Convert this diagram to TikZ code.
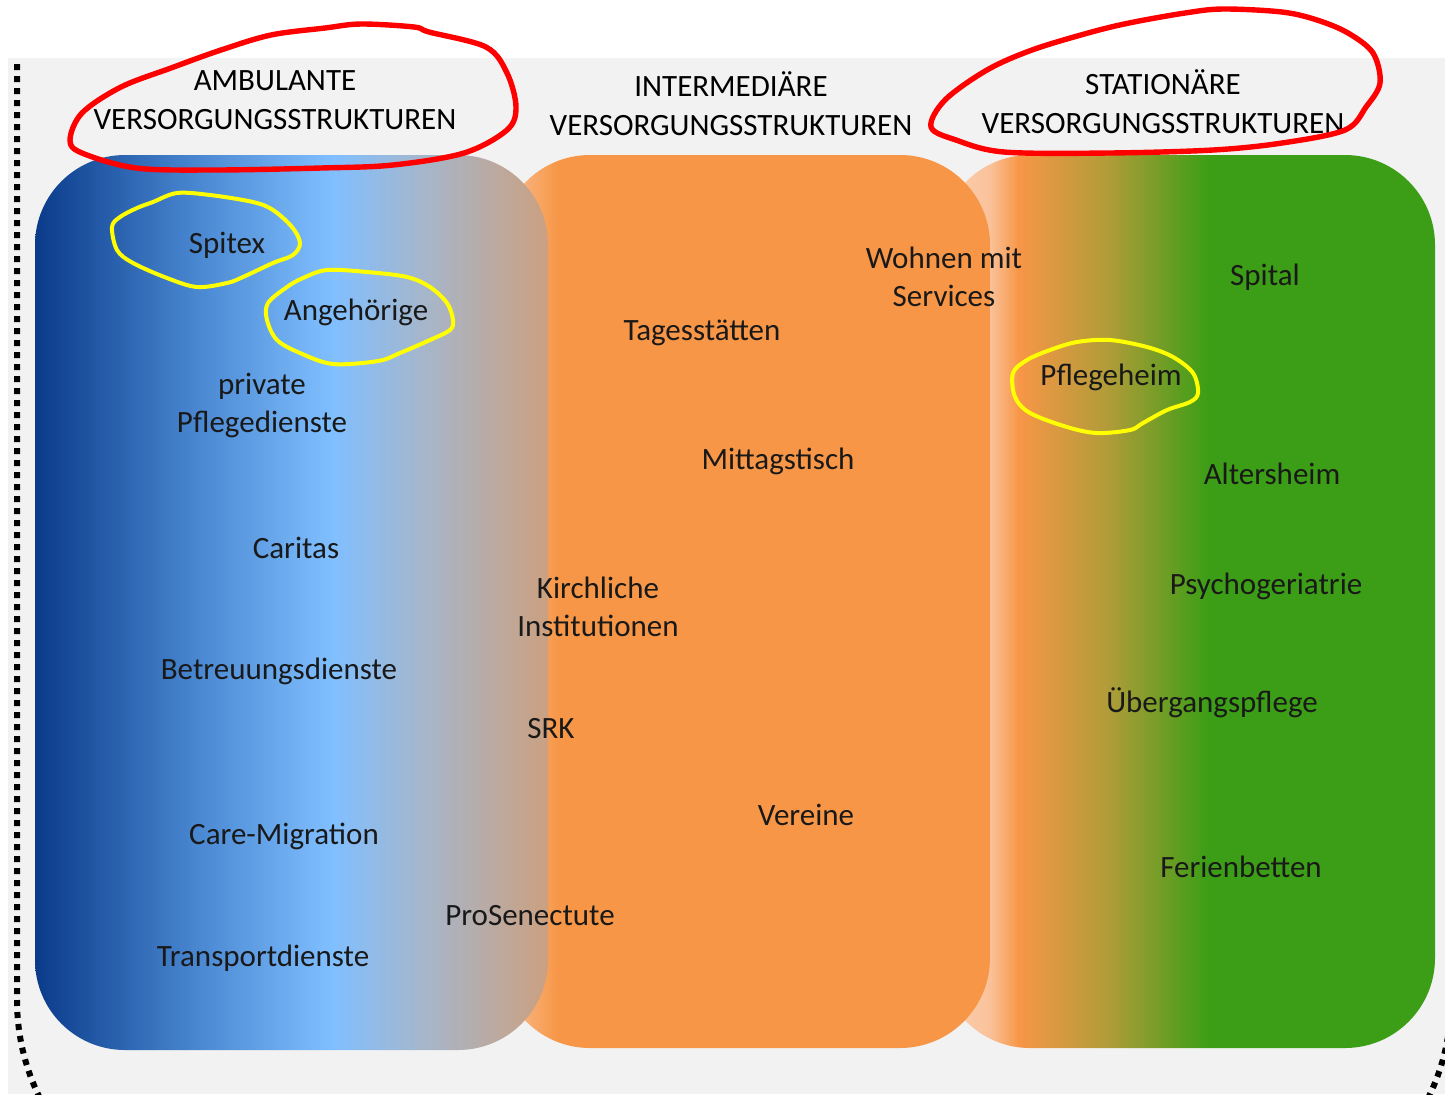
\documentclass[tikz,border=0pt]{standalone}
\usepackage{fontspec}
\setmainfont{Carlito}
\usetikzlibrary{calc}
\definecolor{Paper}{HTML}{F2F2F2}
\definecolor{AmbDark}{HTML}{0A3B8A}
\definecolor{AmbMid}{HTML}{4A88D2}
\definecolor{AmbLight}{HTML}{80BFFF}
\definecolor{AmbGrey}{HTML}{A6B6CA}
\definecolor{AmbTan}{HTML}{CBA080}
\definecolor{IntOrange}{HTML}{F79646}
\definecolor{IntLight}{HTML}{FAC29A}
\definecolor{StatPeach}{HTML}{FAD2B4}
\definecolor{StatOlive}{HTML}{B09C38}
\definecolor{StatGreen}{HTML}{3C9E16}
\definecolor{Marker}{HTML}{FF0000}
\definecolor{Highlight}{HTML}{FFFF00}
\pgfdeclarehorizontalshading{ambulant}{100bp}{color(0bp)=(AmbDark); color(25bp)=(AmbDark); color(41bp)=(AmbMid); color(54bp)=(AmbLight); color(63bp)=(AmbGrey); color(75bp)=(AmbTan); color(100bp)=(AmbTan)}
\pgfdeclarehorizontalshading{intermediaer}{100bp}{color(0bp)=(IntLight); color(25bp)=(IntLight); color(31bp)=(IntOrange); color(100bp)=(IntOrange)}
\pgfdeclarehorizontalshading{stationaer}{100bp}{color(0bp)=(StatPeach); color(25bp)=(StatPeach); color(30bp)=(IntLight); color(33bp)=(IntOrange); color(42bp)=(StatOlive); color(52bp)=(StatGreen); color(100bp)=(StatGreen)}
\tikzset{
 band/.style={rounded corners=45pt},
 head/.style={font=\fontsize{15.5}{19.5}\selectfont,align=center,inner sep=0pt},
 item/.style={font=\fontsize{15.5}{19}\selectfont,align=center,inner sep=0pt,text=black!90},
 redmark/.style={draw=Marker,line width=2.7pt,line join=round},
 yellowmark/.style={draw=Highlight,line width=2pt,line join=round},
 border/.style={line width=3pt,dash pattern=on 3pt off 3pt}
}
\begin{document}
\begin{tikzpicture}[x=0.5pt,y=-0.5pt]
\useasboundingbox (0,0) rectangle (1445,1094);
\clip (0,0) rectangle (1445,1094);
\fill[Paper] (8,58) rectangle (1445,1094);
\draw[border,rounded corners=110.5pt] (17,64) -- (17,1221) -- (1451,1221) -- (1451,62);
% three bands
\shade[band,shading=stationaer] (940,155) rectangle (1435,1048);
\shade[band,shading=intermediaer] (500,155) rectangle (990,1048);
\shade[band,shading=ambulant] (35,155) rectangle (548,1050);
% headings
\node[head] (hAmb) at (275,100) {AMBULANTE\\VERSORGUNGSSTRUKTUREN};
\node[head] (hInt) at (731,104) {INTERMEDIÄRE\\VERSORGUNGSSTRUKTUREN};
\node[head] (hStat) at (1163,102) {STATIONÄRE\\VERSORGUNGSSTRUKTUREN};
% ambulant
\node[item] (spitex) at (227,245) {Spitex};
\node[item] (angeh) at (356,312) {Angehörige};
\node[item] (privat) at (262,405) {private\\Pflegedienste};
\node[item] (caritas) at (296,548) {Caritas};
\node[item] (betreuung) at (279,671) {Betreuungsdienste};
\node[item] (care) at (284,836) {Care-Migration};
\node[item] (transport) at (263,958) {Transportdienste};
% intermediaer
\node[item] (prosen) at (530,916) {ProSenectute};
\node[item] (srk) at (551,729) {SRK};
\node[item] (kirche) at (598,607) {Kirchliche\\Institutionen};
\node[item] (tages) at (702,333) {Tagesstätten};
\node[item] (mittag) at (778,461) {Mittagstisch};
\node[item] (vereine) at (806,815) {Vereine};
\node[item] (wohnen) at (944,277) {Wohnen mit\\Services};
% stationaer
\node[item] (spital) at (1265,277) {Spital};
\node[item] (pflege) at (1111,377) {Pflegeheim};
\node[item] (alters) at (1272,474) {Altersheim};
\node[item] (psycho) at (1266,586) {Psychogeriatrie};
\node[item] (uebergang) at (1212,703) {Übergangspflege};
\node[item] (ferien) at (1241,867) {Ferienbetten};
% hand-drawn marks
\draw[redmark] plot[smooth cycle,tension=0.55] coordinates {(361,24) (414,27) (429,32) (486,47) (507,73) (516,107) (507,130) (464,153) (393,165) (321,168) (214,170) (136,168) (82,153) (70,140) (82,113) (121,87) (171,68) (221,50) (271,35) (325,28)};
\draw[redmark] plot[smooth cycle,tension=0.55] coordinates {(1223,9) (1282,12) (1317,20) (1348,33) (1373,53) (1380,83) (1366,107) (1345,130) (1282,143) (1213,150) (1109,153) (1004,152) (956,140) (931,127) (945,100) (987,70) (1032,50) (1088,33) (1129,23) (1185,13)};
\draw[yellowmark] plot[smooth cycle,tension=0.55] coordinates {(177,193) (210,195) (253,202) (273,210) (292,227) (300,243) (293,255) (273,263) (243,277) (227,283) (197,287) (167,278) (133,263) (117,250) (112,227) (120,217) (137,208) (153,202)};
\draw[yellowmark] plot[smooth cycle,tension=0.55] coordinates {(327,270) (367,272) (407,277) (430,287) (447,303) (453,320) (450,330) (430,340) (400,353) (378,361) (333,364) (300,353) (277,340) (267,320) (268,303) (287,287) (303,278)};
\draw[yellowmark] plot[smooth cycle,tension=0.55] coordinates {(1077,342) (1110,340) (1147,347) (1173,357) (1193,373) (1198,393) (1190,402) (1167,410) (1143,423) (1130,430) (1097,433) (1067,427) (1030,413) (1015,397) (1013,373) (1027,360) (1050,350)};
\end{tikzpicture}
\end{document}
